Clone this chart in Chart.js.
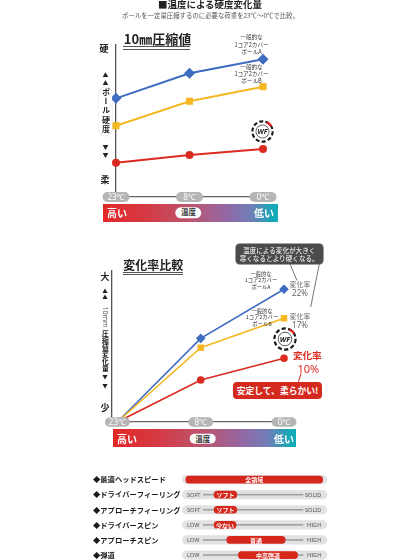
<!DOCTYPE html>
<html lang="ja"><head><meta charset="utf-8">
<title>温度による硬度変化量</title>
<script src="https://cdn.jsdelivr.net/npm/chart.js@4.4.1/dist/chart.umd.min.js"></script>
<style>
html,body{margin:0;padding:0;background:#fff}
body{position:relative;width:420px;height:560px;overflow:hidden;font-family:"Noto Sans CJK JP","Noto Sans",sans-serif;color:#222}
canvas{position:absolute;display:block}
.lbl{position:absolute;transform:translate(-50%,-50%);white-space:nowrap;line-height:1;text-align:center}
.grad{position:absolute;height:18px;background:linear-gradient(90deg,#e42726 0%,#d43a44 25%,#bb5570 50%,#9467a3 70%,#6f7fb8 85%,#12a9b6 97%,#10aab5 100%)}
.pillw{position:absolute;background:#fff;border-radius:6px;transform:translate(-50%,-50%);display:flex;align-items:center;justify-content:center;font-size:7.5px;font-weight:bold;color:#333;line-height:1}
.uline{position:absolute;height:1.6px;border-top:1px solid #555;border-bottom:1px solid #555}
.callout{position:absolute;display:flex;flex-direction:column;align-items:center;justify-content:center;color:#fff;border-radius:4px;line-height:1.25;text-align:center}
.vbg{position:absolute;background:#fff;border-radius:7px;box-shadow:0 0 1.2px #aaa}
</style></head><body>
<canvas id="c1" width="420" height="235" style="left:0;top:0;width:420px;height:235px"></canvas>
<canvas id="c2" width="420" height="215" style="left:0;top:240px;width:420px;height:215px"></canvas>
<canvas id="c3" width="240" height="104" style="left:93px;top:464px;width:240px;height:104px"></canvas>

<div class="uline" style="left:123px;top:46.2px;width:67px"></div>
<div class="uline" style="left:123px;top:271.8px;width:60px"></div>
<div class="vbg" style="left:99px;top:87px;width:13px;height:49px"></div>

<div class="grad" style="left:103px;top:204px;width:175px"></div>
<div class="grad" style="left:113px;top:429.3px;width:183px"></div>
<div class="pillw" style="left:188.4px;top:212.5px;width:25.5px;height:11.4px">温度</div>
<div class="pillw" style="left:202.7px;top:438.6px;width:26.7px;height:10.7px">温度</div>

<div class="callout" style="left:235.7px;top:244px;width:87px;height:20px;background:#4b4b4b;box-shadow:0 0 0 0.8px #888;font-size:6.6px">
<div>温度による変化が大きく</div><div>寒くなるとより硬くなる。</div></div>
<div class="callout" style="left:233.3px;top:381.7px;width:88.4px;height:17.6px;background:#d4291f;font-size:8.8px;font-weight:bold">
<div>安定して、柔らかい!</div></div>

<svg style="position:absolute;left:0;top:0;pointer-events:none" width="420" height="560">
<line x1="290" y1="264" x2="297" y2="280.5" stroke="#666" stroke-width="0.9"/>
<line x1="319.3" y1="264" x2="310.7" y2="307" stroke="#666" stroke-width="0.9"/>
<line x1="301" y1="373.5" x2="298.5" y2="381.7" stroke="#d9261c" stroke-width="1"/>
</svg>

<script>
// ---- data ----
const temps = ['23℃', '8℃', '0℃'];
const seriesNames = ['一般的な1コア2カバーボールA', '一般的な1コア2カバーボールB', 'WF'];
// 10mm compression hardness (relative index)
const hardA = [64.9, 81.4, 90.6];
const hardB = [46.9, 63.0, 72.6];
const hardWF = [22.6, 27.6, 31.6];
// change amount of 10mm compression value (relative index)
const changeA = [0, 55.4, 87.9];
const changeB = [0, 49.2, 68.7];
const changeWF = [0, 27.8, 42.2];
const changeRates = ['22%', '17%', '10%'];
// rating section
const ratingItems = ['◆最適ヘッドスピード', '◆ドライバーフィーリング', '◆アプローチフィーリング', '◆ドライバースピン', '◆アプローチスピン', '◆弾道'];
const ratingStart = [2.6, 22.1, 22.1, 22.1, 30.8, 38.8];
const ratingEnd = [96.8, 37.7, 37.7, 37.2, 71.0, 79.5];
const ratingText = ['全領域', 'ソフト', 'ソフト', '少ない', '普通', '中高弾道'];
const ratingLow = ['', 'SOFT', 'SOFT', 'LOW', 'LOW', 'LOW'];
const ratingHigh = ['', 'SOLID', 'SOLID', 'HIGH', 'HIGH', 'HIGH'];

const BLUE = '#3d6cc0', YELLOW = '#f5b823', RED = '#db2a20';
Chart.defaults.font.family = '"Noto Sans CJK JP","Noto Sans",sans-serif';

const pillPlugin = {
  id: 'pills',
  afterDraw(chart, args, opts) {
    const {ctx, chartArea} = chart;
    const x = chart.scales.x;
    const cy = chartArea.bottom;
    ctx.save();
    chart.data.labels.forEach((t, i) => {
      const px = x.getPixelForValue(i);
      const w = opts.w, h = opts.h;
      ctx.fillStyle = '#b5b5b5';
      ctx.beginPath();
      ctx.roundRect(px - w / 2, cy - h / 2, w, h, h / 2);
      ctx.fill();
      ctx.fillStyle = '#fff';
      ctx.font = '8px "Noto Sans"';
      ctx.textAlign = 'center';
      ctx.textBaseline = 'middle';
      ctx.fillText(t, px, cy + 0.5);
    });
    ctx.restore();
  }
};

function makeLine(id, pad, xmin, series, lw, pill) {
  return new Chart(document.getElementById(id), {
    type: 'line',
    data: {
      labels: temps,
      datasets: series.map(s => ({
        label: s.name,
        data: s.values.map((v, i) => ({x: i, y: v})),
        borderColor: s.color, backgroundColor: s.color,
        pointBackgroundColor: s.color, pointBorderWidth: 0,
        pointStyle: s.style, pointRadius: s.r,
        borderWidth: lw, clip: false, tension: 0
      }))
    },
    options: {
      responsive: false, animation: false, events: [],
      layout: {padding: pad},
      plugins: {legend: {display: false}, tooltip: {enabled: false}, pills: pill},
      scales: {
        x: {type: 'linear', min: xmin, max: 2, ticks: {display: false},
            grid: {display: false, drawTicks: false}, border: {display: true, color: '#666', width: 1.3}},
        y: {type: 'linear', min: 0, max: 100, ticks: {display: false},
            grid: {display: false, drawTicks: false}, border: {display: true, color: '#555', width: 1.3}}
      }
    },
    plugins: [pillPlugin]
  });
}

makeLine('c1', {left: 116, right: 157, top: 45, bottom: 38}, 0, [
  {name: seriesNames[2], values: hardWF, color: RED, style: 'circle', r: 4},
  {name: seriesNames[1], values: hardB, color: YELLOW, style: 'rect', r: 5},
  {name: seriesNames[0], values: hardA, color: BLUE, style: 'rectRot', r: 5.5}
], 2, {w: 27, h: 10});

makeLine('c2', {left: 112, right: 136, top: 31, bottom: 33}, -0.065, [
  {name: seriesNames[2], values: changeWF, color: RED, style: 'circle', r: 3.8},
  {name: seriesNames[1], values: changeB, color: YELLOW, style: 'rect', r: 4.6},
  {name: seriesNames[0], values: changeA, color: BLUE, style: 'rectRot', r: 4.8}
], 1.6, {w: 25, h: 9.5});

const ratingPlugin = {
  id: 'ratingDeco',
  beforeDatasetsDraw(chart) {
    const {ctx} = chart;
    const x = chart.scales.x, y = chart.scales.y;
    const x0 = x.getPixelForValue(x.min), x1 = x.getPixelForValue(x.max);
    ctx.save();
    ratingItems.forEach((_, i) => {
      const cy = y.getPixelForValue(i);
      ctx.fillStyle = '#e2e2e2';
      ctx.beginPath();
      ctx.roundRect(x0, cy - 4.6, x1 - x0, 9.2, 4.6);
      ctx.fill();
      if (ratingLow[i]) {
        ctx.fillStyle = '#a0a0a0';
        ctx.fillRect(x0 + 21, cy - 0.8, (x1 - x0) - 45, 1.6);
        ctx.font = '5.6px "Noto Sans"';
        ctx.fillStyle = '#555';
        ctx.textBaseline = 'middle';
        ctx.textAlign = 'left';
        ctx.fillText(ratingLow[i], x0 + 5, cy + 0.3);
        ctx.textAlign = 'right';
        ctx.fillText(ratingHigh[i], x1 - 6, cy + 0.3);
      }
    });
    ctx.restore();
  },
  afterDatasetsDraw(chart) {
    const {ctx} = chart;
    const meta = chart.getDatasetMeta(0);
    ctx.save();
    ctx.font = 'bold 6px "Noto Sans CJK JP"';
    ctx.fillStyle = '#fff';
    ctx.textAlign = 'center';
    ctx.textBaseline = 'middle';
    meta.data.forEach((bar, i) => {
      ctx.fillText(ratingText[i], (bar.x + bar.base) / 2, bar.y + 0.4);
    });
    ctx.restore();
  }
};

new Chart(document.getElementById('c3'), {
  type: 'bar',
  data: {
    labels: ratingItems,
    datasets: [{
      label: '評価',
      data: ratingStart.map((s, i) => [s, ratingEnd[i]]),
      backgroundColor: '#d6271d',
      barThickness: 7, borderRadius: 3.5, borderSkipped: false
    }]
  },
  options: {
    indexAxis: 'y', responsive: false, animation: false, events: [],
    layout: {padding: {left: 0, right: 5.7, top: 8, bottom: 5.4}},
    plugins: {legend: {display: false}, tooltip: {enabled: false}},
    scales: {
      x: {type: 'linear', min: 0, max: 100, display: false},
      y: {
        ticks: {crossAlign: 'far', autoSkip: false, padding: 0, color: '#1a1a1a',
                font: {size: 7.3, weight: 'bold', family: '"Noto Sans CJK JP"'}},
        grid: {display: false, drawTicks: false}, border: {display: false},
        afterFit(s) { s.width = 89; }
      }
    }
  },
  plugins: [ratingPlugin]
});

// ---- text overlays ----
function L(html, x, y, css) {
  const d = document.createElement('div');
  d.className = 'lbl';
  d.innerHTML = html;
  d.style.left = x + 'px';
  d.style.top = y + 'px';
  Object.assign(d.style, css || {});
  document.body.appendChild(d);
  return d;
}
const V = {writingMode: 'vertical-rl'};

L('■温度による硬度変化量', 210, 5, {fontSize: '9.5px', fontWeight: 'bold', color: '#222'});
L('ボールを一定量圧縮するのに必要な荷重を23℃〜0℃で比較。', 210.5, 16, {fontSize: '6.4px', color: '#555'});
L('10㎜圧縮値', 157.5, 38.3, {fontSize: '13px', fontWeight: 'bold', color: '#222'});
L('変化率比較', 153.3, 265, {fontSize: '12px', fontWeight: 'bold', color: '#222'});

// chart 1 axis label
L('硬', 104, 47.5, {fontSize: '9px', fontWeight: 'bold'});
L('▲', 105.5, 75, {fontSize: '6px'});
L('▲', 105.5, 83, {fontSize: '6px'});
L('ボール硬度', 105.5, 111, Object.assign({fontSize: '8px', fontWeight: 'bold', letterSpacing: '1.2px'}, V));
L('▼', 105.5, 147, {fontSize: '6px'});
L('▼', 105.5, 155, {fontSize: '6px'});
L('柔', 105, 179, {fontSize: '9px', fontWeight: 'bold'});

// chart 2 axis label
L('大', 105, 276, {fontSize: '9px', fontWeight: 'bold'});
L('▲', 105, 291.7, {fontSize: '5.5px'});
L('▲', 105, 298.3, {fontSize: '5.5px'});
L('10mm', 105, 316.7, Object.assign({fontSize: '7px', color: '#555', fontFamily: '"Noto Sans",sans-serif'}, V));
L('圧縮値変化量', 105, 351, Object.assign({fontSize: '6.8px', fontWeight: 'bold', letterSpacing: '0.3px'}, V));
L('▼', 105, 378.3, {fontSize: '5.5px'});
L('▼', 105, 386.7, {fontSize: '5.5px'});
L('少', 105, 406.7, {fontSize: '9px', fontWeight: 'bold'});

// series labels
const ser = n => '一般的な<br>1コア2カバー<br>ボール' + n;
L(ser('A'), 251.5, 45.3, {fontSize: '5.6px', lineHeight: '7.6px', color: '#333'});
L(ser('B'), 251.5, 74.6, {fontSize: '5.6px', lineHeight: '7.2px', color: '#333'});
L(ser('A'), 261, 280.7, {fontSize: '5.3px', lineHeight: '6.7px', color: '#333'});
L(ser('B'), 262, 317.6, {fontSize: '5.3px', lineHeight: '6.5px', color: '#333'});

// change rate labels
L('変化率', 300, 284.3, {fontSize: '7px', color: '#666'});
L(changeRates[0], 300, 293.3, {fontSize: '8px', color: '#666', fontFamily: '"Noto Sans",sans-serif'});
L('変化率', 300, 316, {fontSize: '7px', color: '#666'});
L(changeRates[1], 300, 325, {fontSize: '8px', color: '#666', fontFamily: '"Noto Sans",sans-serif'});
L('変化率', 307.3, 355.7, {fontSize: '9.6px', fontWeight: 'bold', color: RED});
L(changeRates[2], 308.3, 368.3, {fontSize: '11px', color: RED, fontFamily: '"Noto Sans",sans-serif'});

// gradient bar labels
L('高い', 117, 213, {fontSize: '10px', fontWeight: 'bold', color: '#fff'});
L('低い', 264, 213, {fontSize: '10px', fontWeight: 'bold', color: '#fff'});
L('高い', 127, 438.5, {fontSize: '10px', fontWeight: 'bold', color: '#fff'});
L('低い', 284, 438.5, {fontSize: '10px', fontWeight: 'bold', color: '#fff'});

// WF logos
function wf(cx, cy, size) {
  const s = '<svg xmlns="http://www.w3.org/2000/svg" width="' + size + '" height="' + size + '" viewBox="0 0 24 24" style="position:absolute;left:' + (cx - size / 2) + 'px;top:' + (cy - size / 2) + 'px">' +
    '<circle cx="12" cy="12" r="10.6" fill="#fff" stroke="#1a1a1a" stroke-width="2.2" stroke-dasharray="4.2 2.4"/>' +
    '<path d="M16.6 2.5 A10.6 10.6 0 0 1 21.2 6.7" fill="none" stroke="#e02020" stroke-width="2.4"/>' +
    '<circle cx="12" cy="12" r="6.8" fill="none" stroke="#1a1a1a" stroke-width="0.7"/>' +
    '<text x="12" y="14.6" text-anchor="middle" font-size="7.2" font-weight="bold" font-style="italic" font-family="Noto Sans, sans-serif" fill="#1a1a1a">WF</text>' +
    '</svg>';
  document.body.insertAdjacentHTML('beforeend', s);
}
wf(262.7, 131, 23);
wf(284.7, 338.5, 24);
</script>
</body></html>
